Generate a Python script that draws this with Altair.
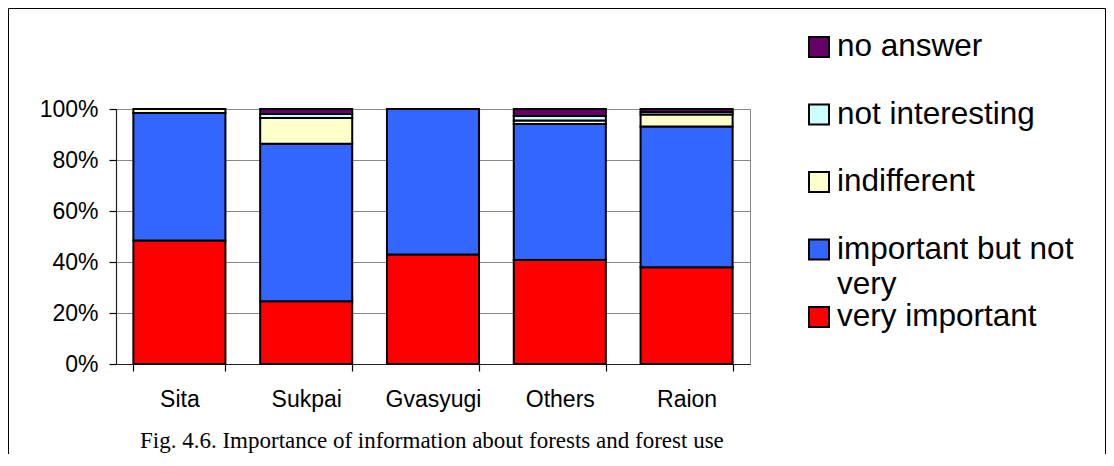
import altair as alt
import pandas as pd

categories = ["Sita", "Sukpai", "Gvasyugi", "Others", "Raion"]
series_names = ["very important", "important but not very", "indifferent",
                "not interesting", "no answer"]
very_important = [48.4, 24.6, 42.9, 40.8, 37.9]
important_but_not_very = [50.0, 61.8, 57.1, 53.3, 55.2]
indifferent = [1.6, 10.1, 0.0, 1.4, 4.7]
not_interesting = [0.0, 1.5, 0.0, 1.8, 1.0]
no_answer = [0.0, 2.0, 0.0, 2.7, 1.2]
series_colors = ["#FF0000", "#3366FF", "#FFFFCC", "#CCFFFF", "#660066"]
legend_order = ["no answer", "not interesting", "indifferent",
                "important but not very", "very important"]
legend_labels = ["no answer", "not interesting", "indifferent",
                 "important but not|very", "very important"]
y_ticks = [0, 20, 40, 60, 80, 100]
caption = "Fig. 4.6. Importance of information about forests and forest use"

series_values = [very_important, important_but_not_very, indifferent,
                 not_interesting, no_answer]
rows = []
for si, (name, vals) in enumerate(zip(series_names, series_values)):
    for cat, v in zip(categories, vals):
        if v > 0:
            rows.append({"category": cat, "series": name, "value": v, "order": si})
df = pd.DataFrame(rows)

color_scale = alt.Scale(domain=series_names, range=series_colors)

bars = alt.Chart(df).mark_bar(stroke="black", strokeWidth=2).encode(
    x=alt.X("category:N", sort=categories,
            scale=alt.Scale(paddingInner=0.274, paddingOuter=0.137),
            axis=alt.Axis(title=None, labelAngle=0, tickBand="extent",
                          labelFont="Liberation Sans", labelFontSize=23,
                          labelColor="black", labelPadding=17, tickSize=7,
                          tickColor="black", tickWidth=1.2,
                          domainColor="#222", domainWidth=1.2, grid=False)),
    y=alt.Y("value:Q", stack="zero",
            scale=alt.Scale(domain=[0, 100], nice=False),
            axis=alt.Axis(title=None, values=y_ticks,
                          labelExpr="datum.value + '%'",
                          labelFont="Liberation Sans", labelFontSize=23,
                          labelColor="black", labelPadding=11, tickSize=7,
                          tickColor="black", tickWidth=1.2,
                          domainColor="#222", domainWidth=1.2,
                          grid=True, gridColor="#888", gridWidth=1)),
    color=alt.Color("series:N", scale=color_scale, legend=None),
    order=alt.Order("order:Q"),
)

leg_df = pd.DataFrame({"series": legend_order, "label": legend_labels})
leg_y = alt.Y("series:N", scale=alt.Scale(domain=legend_order, range=[-62, 208], padding=0),
              axis=None)

leg_sq = alt.Chart(leg_df).mark_square(size=400, opacity=1, filled=True,
                                       stroke="black", strokeWidth=2).encode(
    x=alt.value(703),
    y=leg_y,
    color=alt.Color("series:N", scale=color_scale, legend=None),
)

leg_txt = alt.Chart(leg_df).mark_text(align="left", baseline="middle",
                                      font="Liberation Sans", fontSize=31.5,
                                      lineBreak="|", lineHeight=35,
                                      color="black").encode(
    x=alt.value(721),
    y=leg_y,
    text="label:N",
)

cap = alt.Chart(pd.DataFrame({"t": [caption]})).mark_text(
    align="left", baseline="alphabetic", font="Liberation Serif",
    fontSize=23, color="black").encode(
    x=alt.value(24), y=alt.value(339), text="t:N")

frame = alt.Chart(pd.DataFrame({"a": [0]})).mark_rect(
    fillOpacity=0, stroke="black", strokeWidth=1).encode(
    x=alt.value(-107.5), x2=alt.value(989.5),
    y=alt.value(-100.5), y2=alt.value(420))

chart = alt.layer(frame, bars, leg_sq, leg_txt, cap).resolve_scale(
    y="independent"
).properties(
    width=634, height=255,
    autosize=alt.AutoSizeParams(type="none"),
    padding={"left": 108, "top": 101, "right": 356, "bottom": 90},
    background="white",
).configure_view(stroke="#888", strokeWidth=1)

chart.save("out.html", embed_options={"renderer": "svg", "actions": False})
